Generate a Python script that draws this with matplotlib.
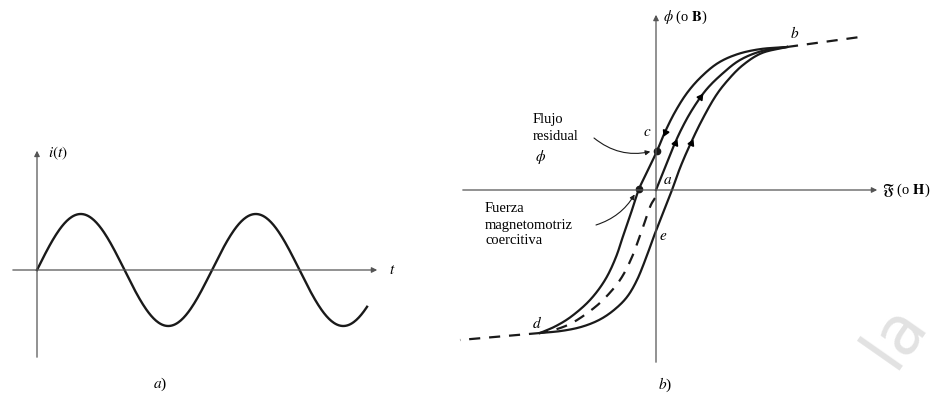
import numpy as np
import matplotlib
matplotlib.use('Agg')
import matplotlib.pyplot as plt

plt.rcParams['font.family'] = ['Liberation Serif', 'DejaVu Serif']
plt.rcParams['mathtext.fontset'] = 'stix'

# a) current waveform i(t) (t in cycles, i in peak units)
sine_amplitude = 1.0
sine_cycles = 1.886

# b) hysteresis loop, (H, B) points
desc_H = [131, 105, 82, 62, 45, 31, 19, 9, 1, -8, -17, -24, -31, -40, -51, -66, -84, -100, -116]
desc_B = [143, 141, 136, 127, 113, 97, 78, 58, 39, 20, 1, -20, -40, -67, -90, -110, -126, -136, -143]

asc_H = [-116, -95, -75, -57, -42, -29, -19, -10, -2, 7, 16, 24, 33, 45, 59, 72, 87, 106, 131]
asc_B = [-143, -141, -137, -130, -120, -107, -90, -68, -46, -23, 0, 22, 43, 68, 93, 110, 125, 137, 143]

init_H = [0, 8, 16, 25, 36, 50, 66, 84, 106, 131]
init_B = [0, 20, 40, 60, 80, 100, 116, 130, 139, 143]

init_dash_H = [-1, -6, -14, -24, -36, -53, -70, -86, -102, -116]
init_dash_B = [-8, -17, -40, -67, -90, -110, -124, -134, -140, -143]

tail_top_H = [131, 204]
tail_top_B = [143, 153]
tail_bot_H = [-116, -196]
tail_bot_B = [-143, -150]

point_c = (1, 39)
point_coerc = (-17, 1)


def smooth(xs, ys, n=16):
    # catmull-rom through the read points, just for drawing
    p = np.column_stack([xs, ys]).astype(float)
    p = np.vstack([2 * p[0] - p[1], p, 2 * p[-1] - p[-2]])
    out = []
    t = np.linspace(0, 1, n, endpoint=False)[:, None]
    for i in range(1, len(p) - 2):
        p0, p1, p2, p3 = p[i - 1], p[i], p[i + 1], p[i + 2]
        out.append(0.5 * (2 * p1 + (-p0 + p2) * t + (2 * p0 - 5 * p1 + 4 * p2 - p3) * t ** 2
                          + (-p0 + 3 * p1 - 3 * p2 + p3) * t ** 3))
    out.append(p[-2][None, :])
    c = np.vstack(out)
    return c[:, 0], c[:, 1]


def arrow_on(ax, x, y, near, color='black'):
    d = (x - near[0]) ** 2 + (y - near[1]) ** 2
    k = int(np.argmin(d))
    k = min(max(k, 1), len(x) - 2)
    ang = np.degrees(np.arctan2(y[k + 1] - y[k - 1], x[k + 1] - x[k - 1]))
    ax.plot(x[k], y[k], marker=(3, 0, ang - 90), ms=5, color=color)


fig = plt.figure(figsize=(9.46, 3.95), dpi=100)
axis_col = '#555555'
ink = '#1a1a1a'

# ---- left panel ----
ax1 = fig.add_axes([0, 0, 440 / 946, 1])
ax1.set_xlim(-37 / 175, 403 / 175)
ax1.set_ylim(-125 / 56, 270 / 56)
ax1.axis('off')

ax1.annotate('', xy=(1.96, 0), xytext=(-0.154, 0),
             arrowprops=dict(arrowstyle='-|>', lw=0.9, color=axis_col, mutation_scale=8))
ax1.annotate('', xy=(0, 2.18), xytext=(0, -1.607),
             arrowprops=dict(arrowstyle='-|>', lw=0.9, color=axis_col, mutation_scale=8))

t = np.linspace(0, sine_cycles, 400)
ax1.plot(t, sine_amplitude * np.sin(2 * np.pi * t), color=ink, lw=1.7)

ax1.text(2.03, 0, r'$t$', fontsize=11, ha='center', va='center')
ax1.text(0.063, 2.09, r'$i(t)$', fontsize=11, ha='left', va='center')
ax1.text(0.703, -2.05, r'$a$)', fontsize=11, ha='center', va='center')

# ---- right panel ----
ax2 = fig.add_axes([440 / 946, 0, 506 / 946, 1])
ax2.set_xlim(-216, 290)
ax2.set_ylim(-205, 190)
ax2.axis('off')

ax2.annotate('', xy=(224, 0), xytext=(-196, 0),
             arrowprops=dict(arrowstyle='-|>', lw=0.9, color=axis_col, mutation_scale=8))
ax2.annotate('', xy=(0, 178), xytext=(0, -175),
             arrowprops=dict(arrowstyle='-|>', lw=0.9, color=axis_col, mutation_scale=8))

dx, dy = smooth(desc_H, desc_B)
ux, uy = smooth(asc_H, asc_B)
mx, my = smooth(init_H, init_B)
nx, ny = smooth(init_dash_H, init_dash_B)
ax2.plot(dx, dy, color=ink, lw=1.6)
ax2.plot(ux, uy, color=ink, lw=1.6)
ax2.plot(mx, my, color=ink, lw=1.6)
ax2.plot(nx, ny, color=ink, lw=1.6, dashes=(5, 4))
ax2.plot(tail_top_H, tail_top_B, color=ink, lw=1.6, dashes=(5, 4))
ax2.plot(tail_bot_H, tail_bot_B, color=ink, lw=1.6, dashes=(5, 4))

arrow_on(ax2, dx, dy, (9, 58))
arrow_on(ax2, mx, my, (21, 46))
arrow_on(ax2, mx, my, (44, 93))
arrow_on(ax2, ux, uy, (37, 47))

ax2.plot(*point_c, 'o', ms=4.5, color=ink)
ax2.plot(*point_coerc, 'o', ms=4.5, color=ink)

fs = 10.5
ax2.text(7, 173, r'$\phi$ (o $\mathbf{B}$)', fontsize=fs, ha='left', va='center')
ax2.text(226, 0, r'$\mathfrak{F}$ (o $\mathbf{H}$)', fontsize=fs, ha='left', va='center')
ax2.text(139, 157, r'$b$', fontsize=11, ha='center', va='center')
ax2.text(-9, 57, r'$c$', fontsize=11, ha='center', va='center')
ax2.text(12, 9, r'$a$', fontsize=11, ha='center', va='center')
ax2.text(-119, -133, r'$d$', fontsize=11, ha='center', va='center')
ax2.text(7, -46, r'$e$', fontsize=11, ha='center', va='center')
ax2.text(9, -195, r'$b$)', fontsize=11, ha='center', va='center')

ax2.text(-123, 62, 'Flujo\nresidual', fontsize=fs, ha='left', va='center', linespacing=1.3)
ax2.text(-121, 33, r'$\phi$', fontsize=11, ha='left', va='center')
ax2.text(-171, -35, 'Fuerza\nmagnetomotriz\ncoercitiva', fontsize=fs, ha='left', va='center',
         linespacing=1.3)

ax2.annotate('', xy=(point_c[0] - 4, point_c[1]), xytext=(-62, 52),
             arrowprops=dict(arrowstyle='-|>', lw=0.8, color=ink, mutation_scale=7,
                             connectionstyle='arc3,rad=0.25', shrinkA=0, shrinkB=2))
ax2.annotate('', xy=(point_coerc[0] - 3, point_coerc[1] - 3), xytext=(-60, -35),
             arrowprops=dict(arrowstyle='-|>', lw=0.8, color=ink, mutation_scale=7,
                             connectionstyle='arc3,rad=0.2', shrinkA=0, shrinkB=2))

# faint watermark in the corner
fig.text(895 / 946, 1 - 335 / 395, 'la', fontsize=48, color='#e2e2e2', rotation=55,
         ha='center', va='center', family='DejaVu Sans', zorder=0)

plt.savefig('out.png', dpi=100)
